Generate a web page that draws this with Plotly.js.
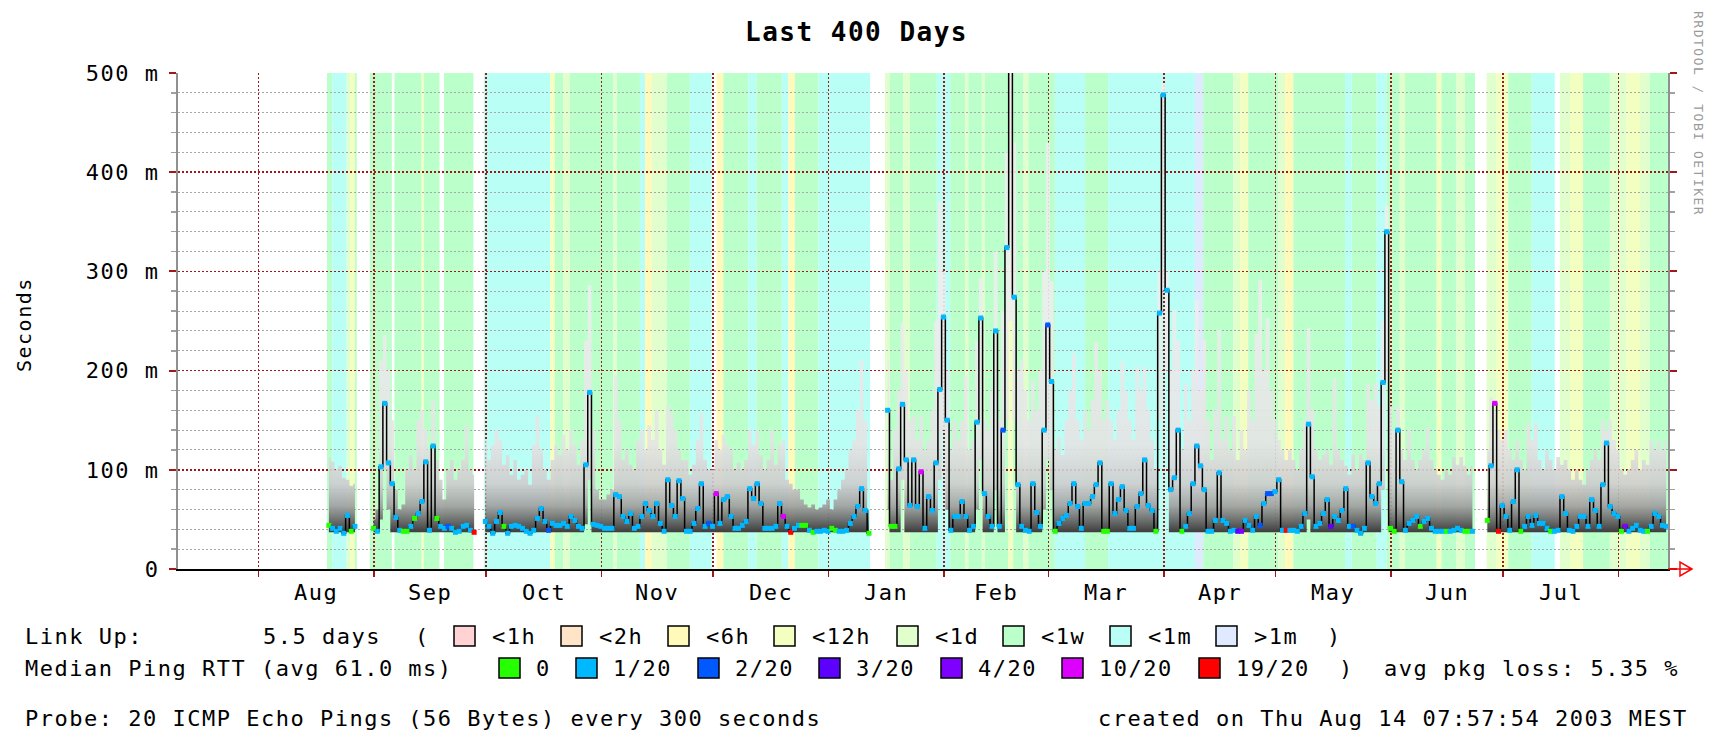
<!DOCTYPE html>
<html><head><meta charset="utf-8">
<script src="https://cdn.plot.ly/plotly-3.0.1.min.js"></script>
<style>
html,body{margin:0;padding:0;background:#fff;}
#chart{width:1713px;height:731px;}
text{letter-spacing:1.5px;}
</style></head><body><div id="chart"></div>
<script>
// ---- time frame (400 days ending Thu Aug 14 07:57:54 2003) ----
const startTime = Date.UTC(2002, 6, 10, 7, 57, 54);
const endTime = Date.UTC(2003, 7, 14, 7, 57, 54);
const firstDay = 40; // first array entry = day 40 after start, one entry per day

// ---- median RTT per day (ms) ----
const medianRtt = [
 44,41,38,41,36,54,38,43,null,null,
 null,null,41,38,103,167,107,86,52,39,
 38,38,43,51,56,68,108,39,124,51,
 43,41,43,41,37,38,43,44,39,37,
 null,null,48,43,36,48,57,43,36,43,
 44,43,41,38,36,39,51,61,48,39,
 46,44,44,46,43,53,49,43,41,105,
 178,45,44,43,41,41,41,75,73,53,
 48,56,41,43,53,66,59,53,66,46,
 38,90,64,53,89,71,38,38,46,61,
 86,43,46,43,76,46,70,73,53,41,
 41,44,48,81,71,86,66,41,41,41,
 43,66,53,43,37,41,44,44,44,39,
 37,38,38,39,38,41,39,38,38,39,
 46,53,63,81,59,36,null,null,null,null,
 160,43,43,101,166,110,64,110,63,98,
 41,73,59,107,181,254,150,39,53,53,
 68,53,39,43,148,253,76,53,43,240,
 43,140,324,510,274,85,43,39,38,86,
 57,43,140,246,189,38,46,51,54,66,
 86,63,41,66,66,73,85,107,38,38,
 86,56,70,83,59,41,41,63,76,110,
 64,59,38,258,478,281,80,92,140,38,
 43,56,86,124,104,80,38,38,49,97,
 49,46,38,39,38,38,49,44,39,53,
 44,66,76,76,78,90,39,39,39,39,
 38,43,56,146,93,43,46,56,70,43,
 53,49,59,81,43,43,39,36,41,107,
 73,66,86,188,340,41,38,140,88,39,
 46,49,53,43,48,51,41,38,38,38,
 38,38,39,41,39,38,38,38,null,null,
 null,49,104,167,38,64,53,39,68,100,
 38,43,53,44,54,46,46,41,38,38,
 39,73,56,39,38,43,53,53,43,70,
 59,43,85,127,63,56,53,38,43,38,
 41,44,39,38,38,43,56,53,44,43
];

// ---- smoke: highest ping per day (ms) ----
const smokeHigh = [
 113,108,100,104,92,90,84,86,null,null,
 null,null,50,60,210,236,200,150,80,60,
 65,100,115,100,150,160,140,120,170,110,
 90,70,100,110,90,100,110,145,100,95,
 null,null,130,110,125,140,130,105,115,95,
 110,90,95,100,85,125,155,120,100,90,
 110,125,115,135,120,140,125,105,130,230,
 286,140,80,70,70,75,80,195,150,110,
 120,105,100,130,140,120,145,130,160,120,
 105,165,157,140,120,110,110,95,105,130,
 157,110,100,100,130,120,135,125,120,100,
 107,100,110,140,125,140,115,100,110,140,
 105,125,130,90,86,80,80,70,65,62,
 65,60,62,65,70,60,70,80,90,100,
 120,130,160,211,150,60,null,null,null,null,
 211,90,140,180,248,200,150,155,130,155,
 120,130,160,250,370,300,200,120,150,130,
 150,195,120,130,230,293,150,140,180,320,
 150,260,420,510,430,200,210,180,150,190,
 160,200,300,430,290,120,133,115,150,180,
 217,150,130,160,140,170,229,200,150,170,
 150,130,160,209,180,150,130,204,180,204,
 160,130,100,300,490,300,200,261,230,120,
 187,150,200,271,180,231,150,110,160,241,
 130,154,120,154,110,140,120,180,150,237,
 291,200,253,180,150,130,120,110,120,110,
 100,120,150,243,160,120,110,115,120,105,
 192,120,110,104,95,116,100,116,110,187,
 170,187,164,250,366,164,140,164,120,110,
 140,110,100,110,120,143,110,100,95,90,
 100,95,113,105,113,104,95,104,null,null,
 null,120,173,160,140,130,140,120,110,130,
 110,100,147,130,147,110,100,120,110,100,
 113,105,110,100,90,100,90,85,100,110,
 120,110,150,140,150,130,120,100,95,100,
 110,120,100,110,105,130,120,130,120,130
];

// ---- smoke: lowest ping per day (ms) ----
const smokeLow = [
 37,37,37,37,37,37,37,37,null,null,
 null,null,37,37,50,100,60,37,37,37,
 37,37,37,37,37,37,37,37,37,37,
 37,37,37,37,37,37,37,37,37,37,
 null,null,37,37,37,37,37,37,37,37,
 37,37,37,37,37,37,37,37,37,37,
 37,37,37,37,37,37,37,37,37,45,
 90,37,37,37,37,37,37,37,37,37,
 37,37,37,37,37,37,37,37,37,37,
 37,37,37,37,37,37,37,37,37,37,
 37,37,37,37,37,37,37,37,37,37,
 37,37,37,37,37,37,37,37,37,37,
 37,37,37,37,37,37,37,37,37,37,
 37,37,37,37,37,37,37,37,37,37,
 37,37,37,37,37,37,null,null,null,null,
 60,37,37,37,90,37,37,37,37,37,
 37,37,37,37,90,140,60,37,37,37,
 37,37,37,37,60,110,37,37,37,80,
 37,37,150,250,150,37,37,37,37,37,
 37,37,60,110,80,37,37,37,37,37,
 37,37,37,37,37,37,37,37,37,37,
 37,37,37,37,37,37,37,37,37,37,
 37,37,37,150,281,200,37,37,37,37,
 37,37,37,37,37,37,37,37,37,37,
 37,37,37,37,37,37,37,37,37,37,
 37,37,37,37,37,37,37,37,37,37,
 37,37,37,50,37,37,37,37,37,37,
 37,37,37,37,37,37,37,37,37,37,
 37,37,37,80,188,37,37,37,37,37,
 37,37,37,37,37,37,37,37,37,37,
 37,37,37,37,37,37,37,37,null,null,
 null,37,37,37,37,37,37,37,37,37,
 37,37,37,37,37,37,37,37,37,37,
 37,37,37,37,37,37,37,37,37,37,
 37,37,37,37,37,37,37,37,37,37,
 37,37,37,37,37,37,37,37,37,37
];

// ---- packet loss: days that differ from 1/20 ----
const lossDays   = [40,46,52,60,61,63,69,87,167,168,170,175,176,185,191,192,235,248,249,262,269,325,326,333,340,345,346,351,360,368,387,394,
                    72,99,142,221,233,290,292,293,315, 284,309, 285,388, 144,162,199,223,353, 79,164,297,354];
const lossLevels = [0,0,0,0,0,0,0,0,0,0,0,0,0,0,0,0,0,0,0,0,0,0,0,0,0,0,0,0,0,0,0,0,
                    2,2,2,2,2,2,2,2,2, 3,3, 4,4, 10,10,10,10,10, 19,19,19,19];
const lossDefault = 1;
const lossSteps  = [0, 1, 2, 3, 4, 10, 19];
const lossLabels = ['0', '1/20', '2/20', '3/20', '4/20', '10/20', '19/20'];
const lossColors = ['#26ff00', '#00b8ff', '#0059ff', '#5e00ff', '#7e00ff', '#dd00ff', '#ff0000'];

// ---- uptime background bands (day offsets) ----
const uptimeLabels = ['<1h', '<2h', '<6h', '<12h', '<1d', '<1w', '<1m', '>1m'];
const uptimeColors = ['#FFD3D3', '#FFE4C7', '#FFF9BA', '#F3FFC0', '#E1FFCC', '#BBFFCB', '#BAFFF5', '#DFE9FF'];
const uptimeStart = [40,41.4,45.3,46.2,47.5, 51.5,58.1,65.4,66,71.4,
 82.1,99.9,101.2,103.4,105.2,116.9,117.8,124,125.4,127.2,131.2,137.4,
 144.6,146.4,153.1,155.3,162.1,163.9,165.6,171.9,
 189.8,191.1,194.7,196.5,203.7,207.3,211.3,212.2,215.8,216.6,222.9,224.2,227,228.3,235.4,243.5,249.7,273,275.2,283.3,285.1,287.3,295.4,297.2,299.4,313.3,315.1,321.8,324.4,328,329.4,337.9,339.2,343.2,345.5,
 351.3,354,357.1,363.4,371,373.7,377.2,384.4,388.9,392.5,395.1];
const uptimeEnd = [41.4,45.3,46.2,47.5,48, 57.4,65.4,66,70.2,79.3,
 99.9,101.2,103.4,105.2,116.9,117.8,124,125.4,127.2,131.2,137.4,143.3,
 146.4,153.1,155.3,162.1,163.9,165.6,171.9,185.8,
 191.1,194.7,196.5,203.7,207.3,211.3,212.2,215.8,216.6,222.9,224.2,227,228.3,235.4,243.5,249.7,273,275.2,283.3,285.1,287.3,295.4,297.2,299.4,313.3,315.1,321.8,324.4,328,329.4,337.9,339.2,343.2,345.5,348.2,
 354,357.1,363.4,369.6,373.7,377.2,384.4,388.9,392.5,395.1,400];
const uptimeKind = [5,6,4,3,5, 5,5,3,5,5,
 6,3,5,4,5,4,5,6,2,4,5,6,
 2,5,6,5,6,2,5,6,
 4,5,4,5,6,5,4,5,4,5,3,5,4,5,6,5,6,7,5,4,3,5,4,2,5,6,5,6,5,4,5,3,5,4,5,
 4,3,5,6,4,3,5,4,3,4,5];

// ---- axes ----
const monthStarts = ['2002-08-01','2002-09-01','2002-10-01','2002-11-01','2002-12-01','2003-01-01','2003-02-01',
                     '2003-03-01','2003-04-01','2003-05-01','2003-06-01','2003-07-01','2003-08-01'];
const monthNames = ['Aug','Sep','Oct','Nov','Dec','Jan','Feb','Mar','Apr','May','Jun','Jul'];
const yTickVals = [0, 100, 200, 300, 400, 500];
const yTickText = ['0', '100 m', '200 m', '300 m', '400 m', '500 m'];

// ---- texts ----
const titleText = 'Last 400 Days';
const yTitle = 'Seconds';
const linkUpText = 'Link Up:';
const linkUpValue = '5.5 days';
const medianText = 'Median Ping RTT (avg 61.0 ms)';
const lossText = 'avg pkg loss: 5.35 %';
const probeText = 'Probe: 20 ICMP Echo Pings (56 Bytes) every 300 seconds';
const createdText = 'created on Thu Aug 14 07:57:54 2003 MEST';
const creditText = 'RRDTOOL / TOBI OETIKER';

// ================= build =================
const DAY = 86400000;
const FONT = 'DejaVu Sans Mono';
function dstr(ms){ return new Date(ms).toISOString().slice(0,19).replace('T',' '); }
function dayStr(d){ return dstr(startTime + d*DAY); }
function monthMid(a,b){ return dstr((Date.parse(a+'T00:00:00Z')+Date.parse(b+'T00:00:00Z'))/2); }

// plot area pixels -> paper
const PL = 178, PR = 1668, PT = 73, PB = 569;
const px = p => (p - PL) / (PR - PL);
const py = p => (PB - p) / (PB - PT);

const xs = medianRtt.map((v,i) => dayStr(firstDay + i + 0.5));

const traces = [];
// smoke, one pair of traces per contiguous run of data
let i = 0;
while (i < smokeHigh.length) {
  if (smokeHigh[i] === null) { i++; continue; }
  let j = i;
  while (j < smokeHigh.length && smokeHigh[j] !== null) j++;
  const rx = xs.slice(i, j);
  traces.push({x: rx, y: smokeLow.slice(i, j), type:'scatter', mode:'lines',
    line:{width:0, shape:'hvh', color:'rgba(0,0,0,0)'}, hoverinfo:'skip', showlegend:false});
  traces.push({x: rx, y: smokeHigh.slice(i, j), type:'scatter', mode:'lines', fill:'tonexty',
    line:{width:0, shape:'hvh', color:'rgba(0,0,0,0)'},
    fillgradient:{type:'vertical', start:37, stop:260,
      colorscale:[[0,'rgba(60,60,60,1)'],[0.05,'rgba(100,100,100,0.95)'],[0.12,'rgba(160,160,160,0.92)'],
                  [0.22,'rgba(205,205,205,0.9)'],[0.4,'rgba(228,228,228,0.9)'],[1,'rgba(238,238,238,0.9)']]},
    hoverinfo:'skip', showlegend:false});
  i = j;
}
// median line
traces.push({x: xs, y: medianRtt, type:'scatter', mode:'lines',
  line:{color:'#000000', width:1.5, shape:'hvh'}, connectgaps:false, hoverinfo:'skip', showlegend:false});
// loss-coloured median markers
const mColors = medianRtt.map((v,k) => {
  const d = firstDay + k;
  const idx = lossDays.indexOf(d);
  const lvl = idx >= 0 ? lossLevels[idx] : lossDefault;
  return lossColors[lossSteps.indexOf(lvl)];
});
traces.push({x: xs, y: medianRtt, type:'scatter', mode:'markers',
  marker:{symbol:'square', size:5, color:mColors, line:{width:0}}, hoverinfo:'skip', showlegend:false});

// shapes
const shapes = [];
for (let k = 0; k < uptimeStart.length; k++) {
  shapes.push({type:'rect', xref:'x', yref:'paper', x0: dayStr(uptimeStart[k]), x1: dayStr(uptimeEnd[k]),
    y0:0, y1:1, fillcolor: uptimeColors[uptimeKind[k]], line:{width:0}, layer:'below'});
}
// x-axis arrow
shapes.push({type:'path', xref:'paper', yref:'paper', xsizemode:'pixel', ysizemode:'pixel', xanchor:1, yanchor:0,
  path:'M0,0 L24,0 M12,-7 L12,7 L24,0 Z', line:{color:'#ff0000', width:1.5}, fillcolor:'rgba(0,0,0,0)'});

const annotations = [];
function txt(t, x, y, opts) {
  annotations.push(Object.assign({text:t, xref:'paper', yref:'paper', x:px(x), y:py(y), showarrow:false,
    xanchor:'left', yanchor:'middle', align:'left', font:{family:FONT, size:22, color:'#000'}}, opts||{}));
}
function box(x, y, color) {
  shapes.push({type:'rect', xref:'paper', yref:'paper', x0:px(x), x1:px(x+21), y0:py(y+10), y1:py(y-10),
    fillcolor:color, line:{color:'#000', width:1.5}});
}
// legend line 1 : uptime
const L1 = 636, L2 = 668, L3 = 718;
txt(linkUpText, 23, L1);
txt(linkUpValue, 261, L1);
txt('(', 413, L1);
const upBoxX = [454, 561, 668, 774, 897, 1003, 1110, 1216];
uptimeLabels.forEach((lab, k) => { box(upBoxX[k], L1, uptimeColors[k]); txt(lab, upBoxX[k] + 36, L1); });
txt(')', 1325, L1);
// legend line 2 : loss
txt(medianText, 23, L2);
const lossBoxX = [499, 576, 698, 819, 941, 1062, 1199];
lossLabels.forEach((lab, k) => { box(lossBoxX[k], L2, lossColors[k]); txt(lab, lossBoxX[k] + 35, L2); });
txt(')', 1337, L2);
txt(lossText, 1382, L2);
// line 3
txt(probeText, 23, L3);
txt(createdText, 1690, L3, {xanchor:'right', align:'right'});
// y title
txt(yTitle, 24, 325, {xanchor:'center', textangle:-90, font:{family:FONT, size:20, color:'#000'}});
// credit
txt(creditText, 1699, 113, {xanchor:'center', textangle:90, font:{family:FONT, size:13, color:'#9a9a9a'}});
// month labels
monthNames.forEach((m, k) => {
  annotations.push({text:m, xref:'x', yref:'paper', x: monthMid(monthStarts[k], monthStarts[k+1]), y: py(592),
    showarrow:false, xanchor:'center', yanchor:'middle', font:{family:FONT, size:22, color:'#000'}});
});

const layout = {
  width:1713, height:731,
  margin:{l:PL, r:1713-PR, t:PT, b:731-PB, pad:0},
  paper_bgcolor:'#ffffff', plot_bgcolor:'#ffffff',
  title:{text:titleText, xref:'container', yref:'container', x:0.5, y:1-32/731, xanchor:'center', yanchor:'middle',
    font:{family:FONT, size:26, color:'#000', weight:700}},
  showlegend:false,
  xaxis:{type:'date', range:[dstr(startTime), dstr(endTime)], tickmode:'array', tickvals:monthStarts,
    ticktext:monthStarts.map(()=>''), showticklabels:false,
    ticks:'outside', ticklen:6, tickwidth:1.5, tickcolor:'#a01818',
    showgrid:true, gridcolor:'#a01818', gridwidth:1.5, griddash:'2px,2px',
    showline:true, linecolor:'#000000', linewidth:2, zeroline:false, fixedrange:true},
  yaxis:{range:[0,500], tickmode:'array', tickvals:yTickVals, ticktext:yTickText,
    ticks:'outside', ticklen:7, tickwidth:2, tickcolor:'#a01818', ticklabelstandoff:5,
    tickfont:{family:FONT, size:22, color:'#000'},
    showgrid:true, gridcolor:'#a01818', gridwidth:1.5, griddash:'2px,2px',
    minor:{dtick:20, tick0:0, showgrid:true, gridcolor:'#a8a8a8', gridwidth:1, griddash:'2px,2px',
      ticks:'outside', ticklen:5, tickcolor:'#a0a0a0', tickwidth:1.5},
    showline:true, linecolor:'#909090', linewidth:2, mirror:'allticks', zeroline:false, fixedrange:true},
  shapes: shapes,
  annotations: annotations
};

Plotly.newPlot('chart', traces, layout, {staticPlot:true, displayModeBar:false});
</script></body></html>
